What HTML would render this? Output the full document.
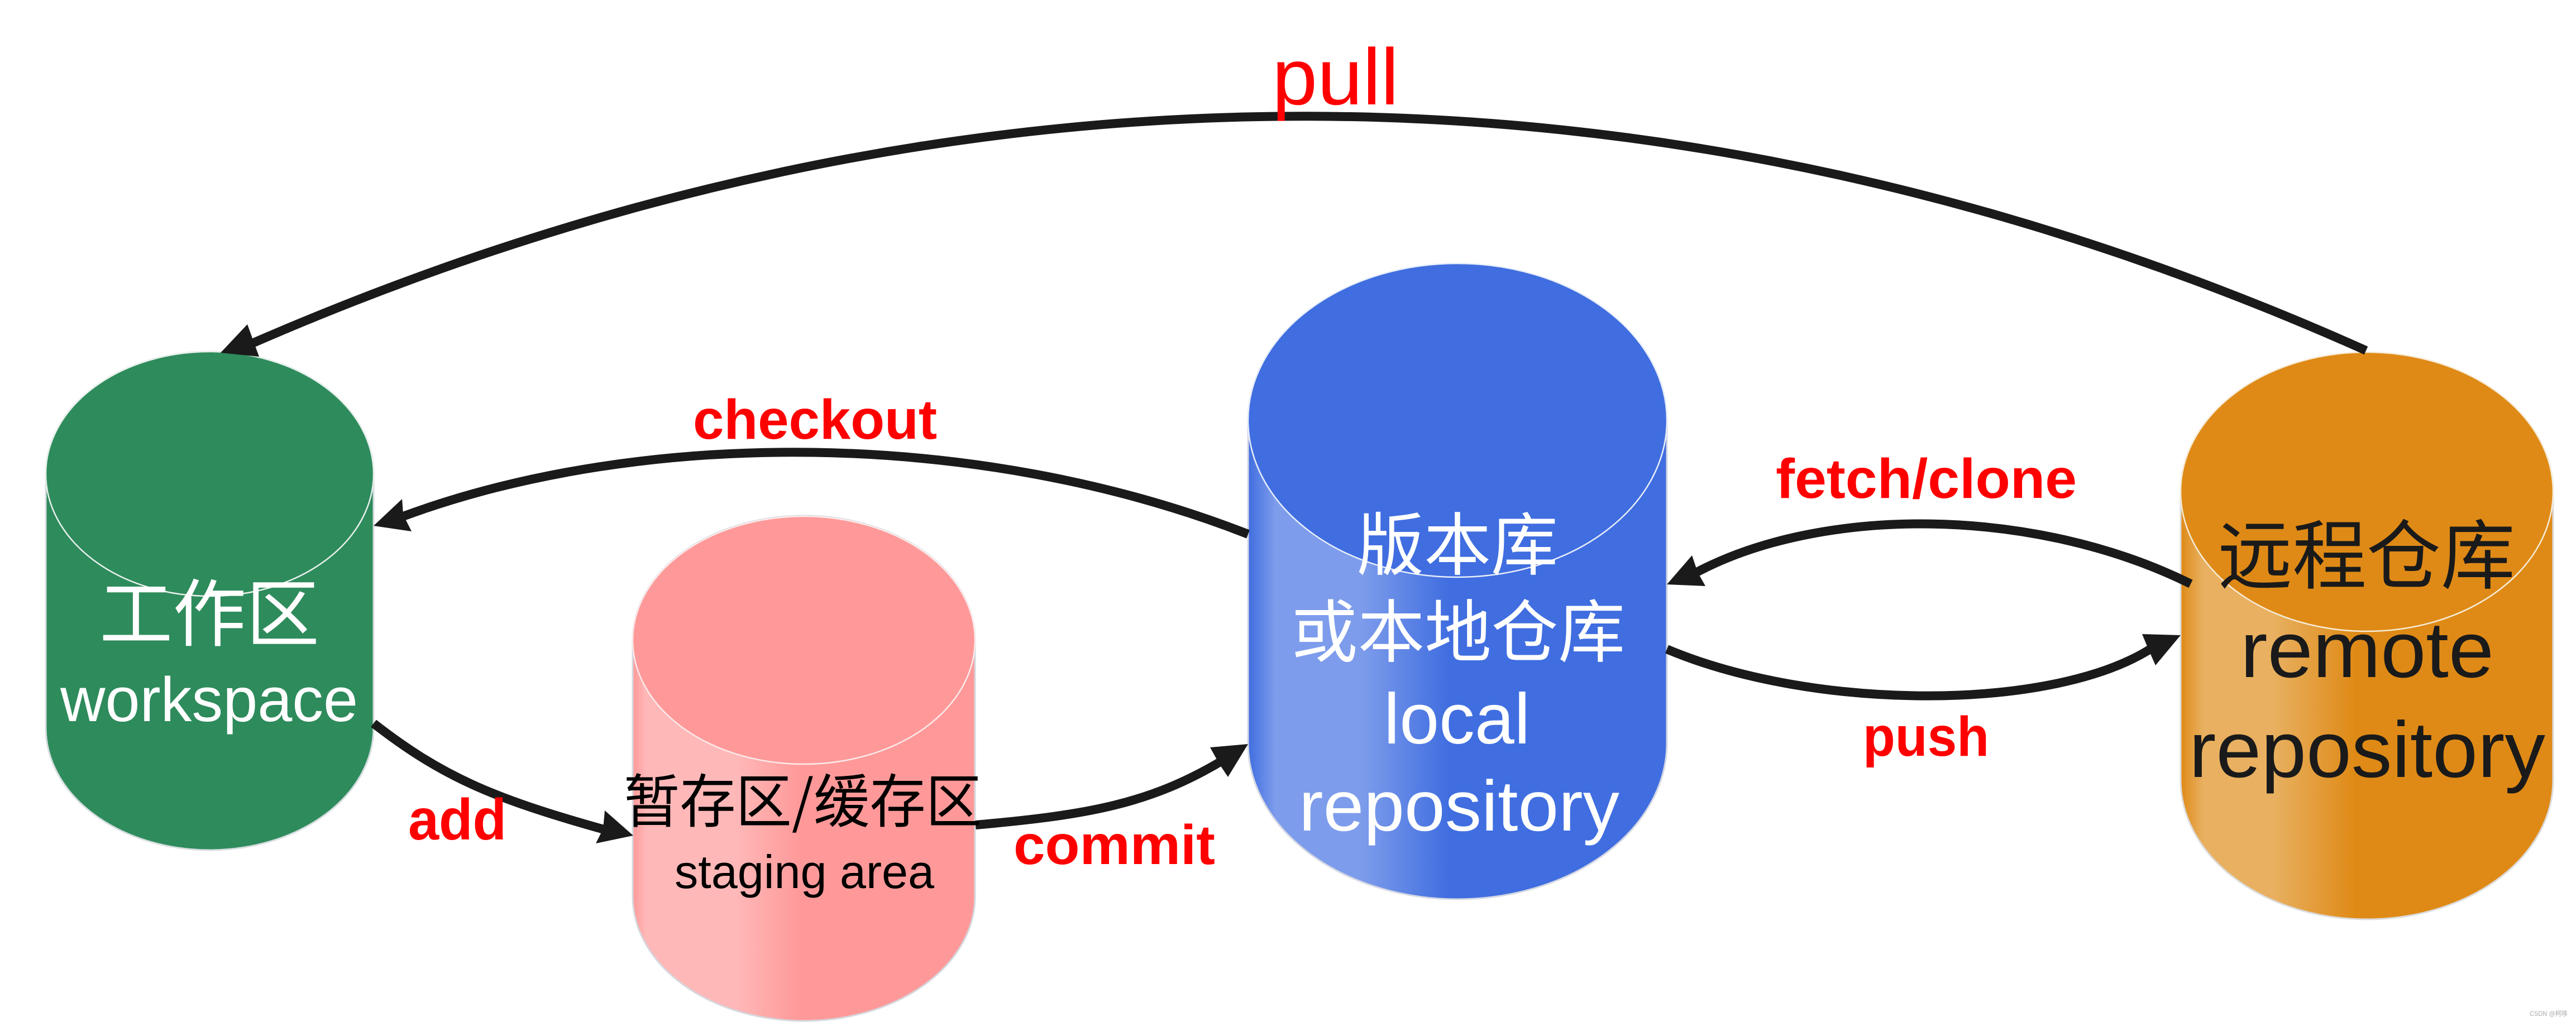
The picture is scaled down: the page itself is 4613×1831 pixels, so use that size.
<!DOCTYPE html>
<html><head><meta charset="utf-8"><style>
html,body{margin:0;padding:0;background:#fff;width:4613px;height:1831px;overflow:hidden}
svg{display:block}
text{font-family:"Liberation Sans","Noto Sans CJK SC",sans-serif}
.cj{font-family:"Noto Sans CJK SC","Liberation Sans",sans-serif;font-weight:400}
.r{fill:#f00;font-weight:700;font-size:100px}
</style></head><body>
<svg width="4613" height="1831" viewBox="0 0 4613 1831" xmlns="http://www.w3.org/2000/svg">
<defs>
<linearGradient id="gp" x1="0" x2="1" y1="0" y2="0"><stop offset="0" stop-color="#ff9999"/><stop offset=".04" stop-color="#ffb8b8"/><stop offset=".3" stop-color="#ffb8b8"/><stop offset=".49" stop-color="#ff9999"/><stop offset="1" stop-color="#ff9999"/></linearGradient>
<linearGradient id="gb" x1="0" x2="1" y1="0" y2="0"><stop offset="0" stop-color="#406ee0"/><stop offset=".066" stop-color="#7d9ceb"/><stop offset=".27" stop-color="#7d9ceb"/><stop offset=".48" stop-color="#406ee0"/><stop offset="1" stop-color="#406ee0"/></linearGradient>
<linearGradient id="go" x1="0" x2="1" y1="0" y2="0"><stop offset="0" stop-color="#df8a16"/><stop offset=".06" stop-color="#e8b060"/><stop offset=".25" stop-color="#e8b060"/><stop offset=".47" stop-color="#df8a16"/><stop offset="1" stop-color="#df8a16"/></linearGradient>
</defs>
<!-- green -->
<path d="M82 849A293.500 219 0 0 1 669 849V1304A293.500 219 0 0 1 82 1304Z" fill="#2e8b5c" stroke="#d5dde0" stroke-width="3"/>
<ellipse cx="375.500" cy="849" rx="293.500" ry="219" fill="#2e8b5c" stroke="#e8f0ec" stroke-width="2.500"/>
<!-- pink -->
<path d="M1133 1147A306.500 223 0 0 1 1746 1147V1606A306.500 223 0 0 1 1133 1606Z" fill="url(#gp)" stroke="#d5d8de" stroke-width="3"/>
<ellipse cx="1439.500" cy="1147" rx="306.500" ry="222" fill="#ff9999" stroke="#fbeaea" stroke-width="2.500"/>
<!-- blue -->
<path d="M2235 753A375 280 0 0 1 2985 753V1331A375 280 0 0 1 2235 1331Z" fill="url(#gb)" stroke="#d5d8e4" stroke-width="3"/>
<ellipse cx="2610" cy="753" rx="375" ry="281" fill="#406ee0" stroke="#e8eefa" stroke-width="2.500"/>
<!-- orange -->
<path d="M3905 881A333.500 249 0 0 1 4572 881V1398A333.500 249 0 0 1 3905 1398Z" fill="url(#go)" stroke="#dcdcdc" stroke-width="3"/>
<ellipse cx="4238.500" cy="881" rx="333.500" ry="250" fill="#df8a16" stroke="#f6ecd8" stroke-width="2.500"/>

<!-- connectors -->
<g fill="none" stroke="#1a1a1a" stroke-width="16">
<path d="M4237 628C2990 70 1700 70 445 618"/>
<path d="M2235 957C1750 767 1150 767 722 925"/>
<path d="M669 1296C790 1390 880 1430 1085 1487"/>
<path d="M1747 1478C1950 1460 2060 1440 2190 1362"/>
<path d="M3923 1046C3640 906 3260 906 3035 1027"/>
<path d="M2985 1163C3250 1275 3680 1275 3855 1160"/>
</g>
<g fill="#1a1a1a">
<polygon points="395,632 443,581 452,606 464,639"/>
<polygon points="669,942 720,894 722,922 737,952"/>
<polygon points="1134,1497 1083,1452 1080,1485 1067,1511"/>
<polygon points="2235,1333 2167,1339 2183,1368 2199,1392"/>
<polygon points="2985,1047 3030,995 3040,1025 3054,1050"/>
<polygon points="3905,1138 3836,1136 3848,1165 3860,1192"/>
</g>

<!-- labels -->
<text x="2278" y="187" font-size="143" fill="#f00" textLength="227" lengthAdjust="spacingAndGlyphs">pull</text>
<text class="r" x="1241" y="786" textLength="437" lengthAdjust="spacingAndGlyphs">checkout</text>
<text class="r" x="731" y="1504" style="font-size:104px" textLength="176" lengthAdjust="spacingAndGlyphs">add</text>
<text class="r" x="1815" y="1548" textLength="361" lengthAdjust="spacingAndGlyphs">commit</text>
<text class="r" x="3180" y="892" textLength="539" lengthAdjust="spacingAndGlyphs">fetch/clone</text>
<text class="r" x="3336" y="1354" textLength="226" lengthAdjust="spacingAndGlyphs">push</text>

<!-- node text -->
<text class="cj" x="178" y="1147" font-size="132" fill="#fff" textLength="394" lengthAdjust="spacingAndGlyphs">工作区</text>
<text x="108" y="1292" font-size="112" fill="#fff" textLength="533" lengthAdjust="spacingAndGlyphs">workspace</text>
<text class="cj" x="1117" y="1473" font-size="104" fill="#000" textLength="641" lengthAdjust="spacingAndGlyphs">暂存区/缓存区</text>
<text x="1208" y="1591" font-size="84" fill="#000" textLength="465" lengthAdjust="spacingAndGlyphs">staging area</text>
<text class="cj" x="2430" y="1020" font-size="122" fill="#fff" textLength="360" lengthAdjust="spacingAndGlyphs">版本库</text>
<text class="cj" x="2312" y="1176" font-size="122" fill="#fff" textLength="598" lengthAdjust="spacingAndGlyphs">或本地仓库</text>
<text x="2478" y="1332" font-size="128" fill="#fff" textLength="262" lengthAdjust="spacingAndGlyphs">local</text>
<text x="2326" y="1488" font-size="128" fill="#fff" textLength="574" lengthAdjust="spacingAndGlyphs">repository</text>
<text class="cj" x="3972" y="1044" font-size="136" fill="#1a1a1a" textLength="532" lengthAdjust="spacingAndGlyphs">远程仓库</text>
<text x="4012" y="1213" font-size="142" fill="#1a1a1a" textLength="454" lengthAdjust="spacingAndGlyphs">remote</text>
<text x="3920" y="1392" font-size="142" fill="#1a1a1a" textLength="638" lengthAdjust="spacingAndGlyphs">repository</text>
<text x="4530" y="1820" font-size="12" fill="#aaa" textLength="68" lengthAdjust="spacingAndGlyphs">CSDN @柯哆</text>
</svg>
</body></html>
